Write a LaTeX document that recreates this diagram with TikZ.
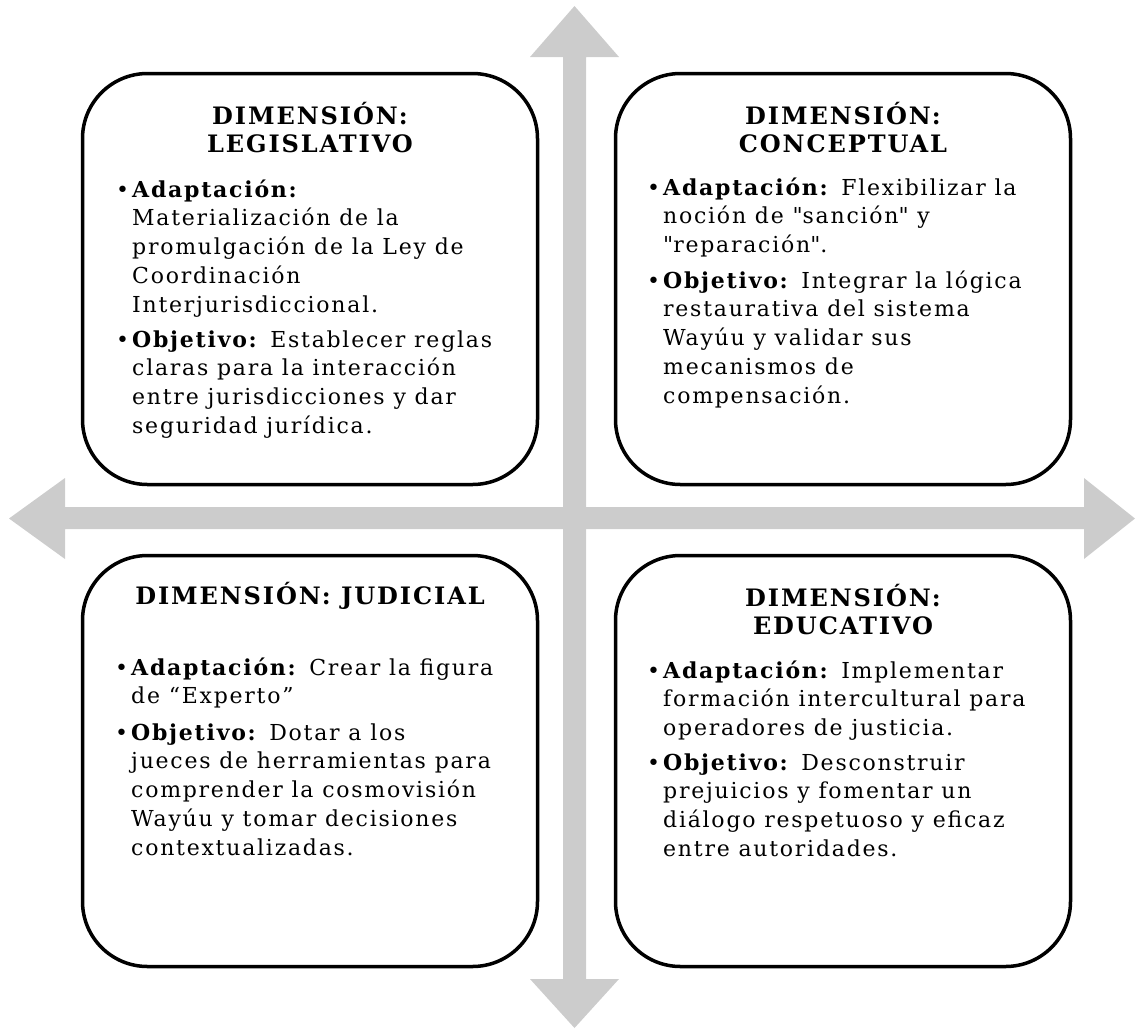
\documentclass[tikz,border=0pt]{standalone}
\usepackage{fontspec}
\setmainfont{DejaVu Serif}[LetterSpace=8]
\usepackage{tikz}
\usetikzlibrary{positioning}

\definecolor{crossgray}{HTML}{CCCCCC}
\newcommand{\dimttlfont}{\fontsize{24}{28}\selectfont\bfseries}
\newcommand{\dimitmfont}{\fontsize{22}{28.7}\selectfont}
\newcommand{\ttlstrut}{\rule{0pt}{24pt}}
\newcommand{\itmbullet}{\llap{\rule{0pt}{23pt}\textbullet\hspace{3pt}}}

\begin{document}
\begin{tikzpicture}[x=1pt,y=-1pt,
	dimstyle/.style={draw,rectangle,fill=white,line width=3.5pt,rounded corners=65pt,minimum width=455pt,minimum height=411pt},
	ttlstyle/.style={align=center,inner sep=0pt,font=\dimttlfont},
	itmstyle/.style={anchor=north west,align=left,inner sep=0pt,font=\dimitmfont}
]
	\useasboundingbox (0,0) rectangle (1136,1029);

	\fill[crossgray] (563,57) -- (530,57) -- (574.5,6) -- (619,57) -- (586,57) -- (586,979) -- (619,979) -- (574.5,1028) -- (530,979) -- (563,979) -- cycle;
	\fill[crossgray] (65,507) -- (65,478) -- (9,518.5) -- (65,559) -- (65,529) -- (1084,529) -- (1084,559) -- (1135,518.5) -- (1084,478) -- (1084,507) -- cycle;

	\node[dimstyle] at (310,279) (leg) {};
	\node[ttlstyle,below=29pt of leg.north] (legttl) {\ttlstrut DIMENSIÓN:\\LEGISLATIVO};
	\node[itmstyle] at (132,174) (legadp) {\itmbullet\textbf{Adaptación:}\\Materialización de la\\promulgación de la Ley de\\Coordinación\\Interjurisdiccional.};
	\node[itmstyle] at (132,324) (legobj) {\itmbullet\textbf{Objetivo:} Establecer reglas\\claras para la interacción\\entre jurisdicciones y dar\\seguridad jurídica.};

	\node[dimstyle] at (843,279) (con) {};
	\node[ttlstyle,below=29pt of con.north] (conttl) {\ttlstrut DIMENSIÓN:\\CONCEPTUAL};
	\node[itmstyle] at (663,172) (conadp) {\itmbullet\textbf{Adaptación:} Flexibilizar la\\noción de \textquotedbl sanción\textquotedbl{} y\\\textquotedbl reparación\textquotedbl.};
	\node[itmstyle] at (663,265) (conobj) {\itmbullet\textbf{Objetivo:} Integrar la lógica\\restaurativa del sistema\\Wayúu y validar sus\\mecanismos de\\compensación.};

	\node[dimstyle] at (310,761) (jud) {};
	\node[ttlstyle,below=27pt of jud.north] (judttl) {\ttlstrut DIMENSIÓN: JUDICIAL};
	\node[itmstyle] at (131,652) (judadp) {\itmbullet\textbf{Adaptación:} Crear la figura\\de “Experto”};
	\node[itmstyle] at (131,717) (judobj) {\itmbullet\textbf{Objetivo:} Dotar a los\\jueces de herramientas para\\comprender la cosmovisión\\Wayúu y tomar decisiones\\contextualizadas.};

	\node[dimstyle] at (843,761) (edu) {};
	\node[ttlstyle,below=29pt of edu.north] (eduttl) {\ttlstrut DIMENSIÓN:\\EDUCATIVO};
	\node[itmstyle] at (663,655) (eduadp) {\itmbullet\textbf{Adaptación:} Implementar\\formación intercultural para\\operadores de justicia.};
	\node[itmstyle] at (663,747) (eduobj) {\itmbullet\textbf{Objetivo:} Desconstruir\\prejuicios y fomentar un\\diálogo respetuoso y eficaz\\entre autoridades.};
\end{tikzpicture}
\end{document}
